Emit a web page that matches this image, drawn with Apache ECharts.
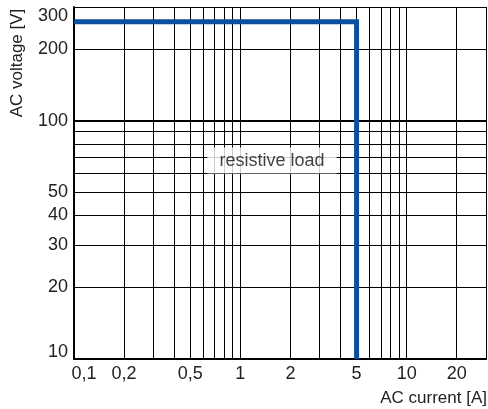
<!DOCTYPE html>
<html>
<head>
<meta charset="utf-8">
<script src="https://cdn.jsdelivr.net/npm/echarts@6/dist/echarts.min.js"></script>
<style>
html,body{margin:0;padding:0;background:#fff;}
#chart{width:488px;height:409px;}
</style>
</head>
<body>
<div id="chart"></div>
<script>
// Grid line positions
const currentGrid = [0.1,0.2,0.3,0.4,0.5,0.6,0.7,0.8,0.9,1,2,3,4,5,6,7,8,9,10,20,30];
const voltageGrid = [10,20,30,40,50,60,70,80,90,100,200,300];
// Tick labels
const currentTicks = [0.1,0.2,0.5,1,2,5,10,20];
const currentTickLabels = ['0,1','0,2','0,5','1','2','5','10','20'];
const voltageTicks = [10,20,30,40,50,100,200,300];
const voltageTickLabels = ['10','20','30','40','50','100','200','300'];
// Limit curve (resistive load)
const limitCurrent = [0.1, 5, 5];
const limitVoltage = [260, 260, 10];
const annotation = {text: 'resistive load', current: 1.55, voltage: 68};

const numFont = '"Liberation Sans", Arial, sans-serif';
const textFont = '"Liberation Sans", Arial, sans-serif';

const gridLines = [];
currentGrid.forEach(v => {
  const idx = currentTicks.indexOf(v);
  const item = {xAxis: v, lineStyle: {width: 1}};
  if (idx >= 0) {
    item.label = {show: true, formatter: currentTickLabels[idx], padding: idx === 0 ? [0,0,0,20] : 0};
  } else {
    item.label = {show: false};
  }
  gridLines.push(item);
});
voltageGrid.forEach((v, i) => {
  const idx = voltageTicks.indexOf(v);
  const item = {yAxis: v, lineStyle: {width: v === 100 ? 2 : 1}};
  if (idx >= 0) {
    let txt = voltageTickLabels[idx];
    const lbl = {show: true};
    if (i === 0) { txt = txt + '\n '; lbl.lineHeight = 14; }
    else if (i === voltageGrid.length - 1) { txt = ' \n' + txt; lbl.lineHeight = 19; }
    lbl.formatter = txt;
    item.label = lbl;
  } else {
    item.label = {show: false};
  }
  gridLines.push(item);
});

const chart = echarts.init(document.getElementById('chart'), null, {renderer: 'canvas'});
chart.setOption({
  animation: false,
  backgroundColor: '#fff',
  grid: {left: 74, top: 7, width: 412, height: 352, containLabel: false},
  xAxis: {
    type: 'log', logBase: 10, min: 0.1, max: 30,
    axisLine: {show: true, onZero: false, lineStyle: {color: '#000', width: 2}},
    axisTick: {show: false}, axisLabel: {show: false}, splitLine: {show: false}, minorSplitLine: {show: false}
  },
  yAxis: {
    type: 'log', logBase: 10, min: 10, max: 300,
    axisLine: {show: true, onZero: false, lineStyle: {color: '#000', width: 2}},
    axisTick: {show: false}, axisLabel: {show: false}, splitLine: {show: false}
  },
  graphic: [
    {type: 'text', x: 17, y: 63, rotation: Math.PI / 2, style: {text: 'AC voltage [V]', font: '17px ' + textFont, fill: '#222', align: 'center', verticalAlign: 'middle'}},
    {type: 'text', x: 487, y: 398, style: {text: 'AC current [A]', font: '17px ' + textFont, fill: '#222', align: 'right', verticalAlign: 'middle'}}
  ],
  series: [
    {
      type: 'line', data: [], z: 1, silent: true,
      markLine: {
        z: 1, silent: true, symbol: ['none','none'], animation: false,
        lineStyle: {color: '#000', type: 'solid', width: 1},
        label: {position: 'start', distance: 6, color: '#222', fontFamily: numFont, fontSize: 18},
        emphasis: {disabled: true},
        data: gridLines
      }
    },
    {
      type: 'line', z: 3, silent: true, symbol: 'none',
      data: limitCurrent.map((c, i) => [c, limitVoltage[i]]),
      lineStyle: {color: '#0a4f9e', width: 5, cap: 'butt', join: 'miter'}
    },
    {
      type: 'scatter', z: 4, silent: true, symbolSize: 0,
      data: [[annotation.current, annotation.voltage]],
      label: {show: true, position: 'inside', formatter: annotation.text, backgroundColor: '#fff', padding: [4, 12, 4, 12], color: '#111', fontFamily: textFont, fontSize: 18},
      emphasis: {disabled: true}
    }
  ]
});
</script>
</body>
</html>
